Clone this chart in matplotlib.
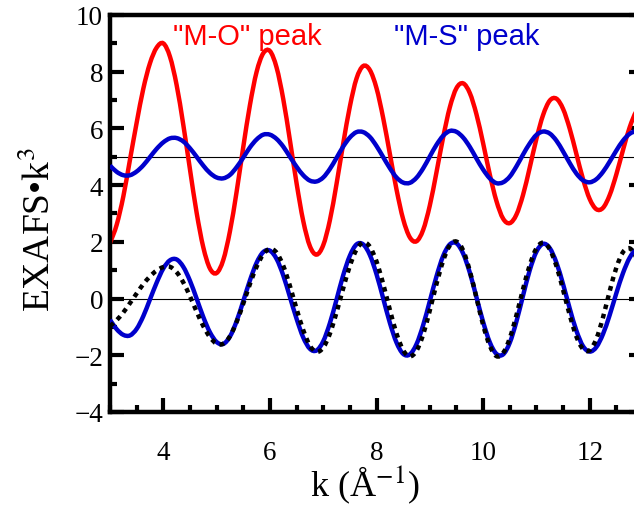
import matplotlib
matplotlib.use("Agg")
import matplotlib.pyplot as plt
import numpy as np
from matplotlib.path import Path
from matplotlib.patches import PathPatch
from matplotlib.ticker import MultipleLocator

plt.rcParams['font.family'] = ['Liberation Serif', 'DejaVu Serif']
plt.rcParams['mathtext.fontset'] = 'stix'

# k grid (1/A) and the four traces
k = [3.0, 3.125, 3.25, 3.375, 3.5, 3.625, 3.75, 3.875,
     4.0, 4.125, 4.25, 4.375, 4.5, 4.625, 4.75, 4.875,
     5.0, 5.125, 5.25, 5.375, 5.5, 5.625, 5.75, 5.875,
     6.0, 6.125, 6.25, 6.375, 6.5, 6.625, 6.75, 6.875,
     7.0, 7.125, 7.25, 7.375, 7.5, 7.625, 7.75, 7.875,
     8.0, 8.125, 8.25, 8.375, 8.5, 8.625, 8.75, 8.875,
     9.0, 9.125, 9.25, 9.375, 9.5, 9.625, 9.75, 9.875,
     10.0, 10.125, 10.25, 10.375, 10.5, 10.625, 10.75, 10.875,
     11.0, 11.125, 11.25, 11.375, 11.5, 11.625, 11.75, 11.875,
     12.0, 12.125, 12.25, 12.375, 12.5, 12.625, 12.75, 12.875,
     13.0]

# "M-O" peak, offset by +5
mo_peak = [1.95, 2.6, 3.6, 4.9, 6.2, 7.4, 8.3, 8.85,
           9.0, 8.53, 7.53, 6.13, 4.56, 3.03, 1.81, 1.06,
           0.90, 1.36, 2.37, 3.76, 5.34, 6.82, 7.99, 8.65,
           8.73, 8.15, 7.04, 5.59, 4.07, 2.74, 1.85, 1.55,
           1.88, 2.76, 4.04, 5.46, 6.77, 7.76, 8.20, 8.06,
           7.42, 6.37, 5.11, 3.85, 2.80, 2.16, 2.02, 2.42,
           3.28, 4.45, 5.68, 6.74, 7.42, 7.59, 7.25, 6.50,
           5.48, 4.38, 3.44, 2.82, 2.66, 2.96, 3.66, 4.62,
           5.63, 6.47, 6.98, 7.05, 6.69, 5.99, 5.10, 4.21,
           3.51, 3.15, 3.20, 3.65, 4.38, 5.24, 6.04, 6.60,
           6.80]

# "M-S" peak, offset by +5
ms_peak = [4.69, 4.47, 4.35, 4.35, 4.48, 4.70, 4.99, 5.28,
           5.51, 5.65, 5.66, 5.54, 5.30, 5.00, 4.69, 4.43,
           4.27, 4.24, 4.36, 4.63, 4.97, 5.33, 5.61, 5.78,
           5.78, 5.63, 5.36, 5.00, 4.65, 4.35, 4.16, 4.13,
           4.27, 4.57, 4.96, 5.36, 5.68, 5.87, 5.87, 5.70,
           5.38, 4.99, 4.60, 4.27, 4.09, 4.08, 4.26, 4.59,
           5.01, 5.42, 5.74, 5.91, 5.88, 5.68, 5.35, 4.94,
           4.55, 4.24, 4.07, 4.10, 4.30, 4.66, 5.08, 5.47,
           5.77, 5.89, 5.82, 5.57, 5.19, 4.78, 4.41, 4.17,
           4.10, 4.21, 4.47, 4.83, 5.22, 5.57, 5.81, 5.90,
           5.82]

# fit (blue) and data (dotted) around zero
fit = [-0.75, -1.08, -1.28, -1.30, -1.07, -0.62, -0.03, 0.56,
       1.06, 1.35, 1.38, 1.12, 0.63, 0.00, -0.65, -1.19,
       -1.53, -1.60, -1.34, -0.80, -0.09, 0.64, 1.26, 1.64,
       1.69, 1.40, 0.82, 0.06, -0.71, -1.37, -1.77, -1.83,
       -1.51, -0.87, -0.04, 0.82, 1.51, 1.91, 1.91, 1.54,
       0.86, 0.01, -0.85, -1.55, -1.95, -1.97, -1.61, -0.94,
       -0.09, 0.78, 1.50, 1.91, 1.95, 1.59, 0.92, 0.05,
       -0.82, -1.54, -1.95, -1.97, -1.56, -0.81, 0.11, 1.00,
       1.65, 1.93, 1.78, 1.27, 0.51, -0.35, -1.13, -1.68,
       -1.87, -1.71, -1.25, -0.58, 0.19, 0.90, 1.44, 1.73,
       1.72]

data = [-0.97, -0.76, -0.49, -0.16, 0.18, 0.51, 0.78, 0.99,
        1.11, 1.12, 0.93, 0.57, 0.08, -0.46, -0.97, -1.36,
        -1.59, -1.59, -1.33, -0.83, -0.18, 0.51, 1.12, 1.56,
        1.75, 1.62, 1.16, 0.45, -0.36, -1.11, -1.66, -1.88,
        -1.73, -1.24, -0.49, 0.36, 1.15, 1.73, 1.98, 1.83,
        1.31, 0.52, -0.39, -1.23, -1.82, -2.04, -1.84, -1.27,
        -0.42, 0.51, 1.33, 1.87, 2.01, 1.70, 0.98, 0.03,
        -0.93, -1.66, -2.03, -1.92, -1.40, -0.59, 0.34, 1.18,
        1.77, 1.97, 1.74, 1.15, 0.31, -0.58, -1.34, -1.78,
        -1.82, -1.42, -0.66, 0.26, 1.09, 1.64, 1.77, 1.45,
        0.79]

red = '#ff0000'
blue = '#0000cc'


def smooth_line(ax, x, y, **kw):
    # draw a smooth curve through the read points (Catmull-Rom as bezier)
    pts = np.column_stack([x, y]).astype(float)
    ext = np.vstack([2 * pts[0] - pts[1], pts, 2 * pts[-1] - pts[-2]])
    verts = [pts[0]]
    codes = [Path.MOVETO]
    for i in range(1, len(ext) - 2):
        p0, p1, p2, p3 = ext[i - 1], ext[i], ext[i + 1], ext[i + 2]
        verts += [p1 + (p2 - p0) / 6, p2 - (p3 - p1) / 6, p2]
        codes += [Path.CURVE4] * 3
    ax.add_patch(PathPatch(Path(verts, codes), fill=False, **kw))


fig = plt.figure(figsize=(6.34, 5.06), dpi=100)
ax = fig.add_axes([0.1735, 0.1838, 0.8407, 0.7846])

ax.axhline(5, color='black', lw=0.8, zorder=1)
ax.axhline(0, color='black', lw=0.8, zorder=1)
smooth_line(ax, k, mo_peak, edgecolor=red, lw=3.2, capstyle='butt', zorder=2)
smooth_line(ax, k, ms_peak, edgecolor=blue, lw=3.2, capstyle='butt', zorder=3)
smooth_line(ax, k, fit, edgecolor=blue, lw=3.2, capstyle='butt', zorder=3)
smooth_line(ax, k, data, edgecolor='black', lw=3.2, capstyle='butt',
            linestyle=(0, (1.05, 1.1)), zorder=4)

ax.text(4.18, 8.98, '"M-O" peak', color=red, fontsize=21,
        family='Liberation Sans', va='baseline', ha='left')
ax.text(8.33, 8.98, '"M-S" peak', color=blue, fontsize=21,
        family='Liberation Sans', va='baseline', ha='left')

ax.set_xlim(3, 13)
ax.set_ylim(-4, 10)
ax.xaxis.set_major_locator(MultipleLocator(2))
ax.xaxis.set_minor_locator(MultipleLocator(0.5))
ax.yaxis.set_major_locator(MultipleLocator(2))
ax.yaxis.set_minor_locator(MultipleLocator(1))

for s in ax.spines.values():
    s.set_linewidth(3.2)
ax.tick_params(which='both', direction='in', top=False, right=True,
               width=3.0, labelsize=19.5)
ax.tick_params(which='major', length=10)
ax.tick_params(which='minor', length=5)
ax.tick_params(axis='x', which='major', pad=20)
ax.tick_params(axis='y', which='major', pad=5)

ax.set_xlabel('k (Å$^{-1}$)', fontsize=26)
ax.xaxis.label.set_verticalalignment('baseline')
ax.xaxis.set_label_coords(0.478, -0.211)
ax.set_ylabel('EXAFS•k$^3$', fontsize=27)
ax.yaxis.label.set_verticalalignment('baseline')
ax.yaxis.set_label_coords(-0.1126, 0.461)

fig.savefig('out.png', dpi=100)
